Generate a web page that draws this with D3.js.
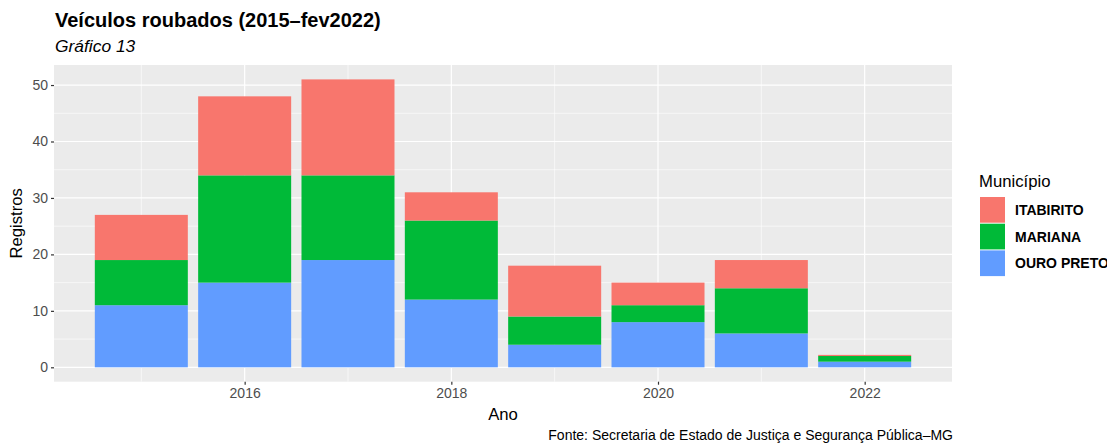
<!DOCTYPE html>
<html><head><meta charset="utf-8">
<script src="https://cdn.jsdelivr.net/npm/d3@7"></script>
<style>body{margin:0;background:#fff;font-family:"Liberation Sans",Arial,sans-serif}svg{display:block}</style>
</head><body>
<svg id="c" width="1107" height="445"></svg>
<script>
const years = [2015, 2016, 2017, 2018, 2019, 2020, 2021, 2022];
const ouroPreto = [11, 15, 19, 12, 4, 8, 6, 1];
const mariana = [8, 19, 15, 14, 5, 3, 8, 1];
const itabirito = [8, 14, 17, 5, 9, 4, 5, 0.2];
const seriesNames = ["OURO PRETO", "MARIANA", "ITABIRITO"];
const legendOrder = ["ITABIRITO", "MARIANA", "OURO PRETO"];
const colors = {"ITABIRITO": "#F8766D", "MARIANA": "#00BA38", "OURO PRETO": "#619CFF"};
const xTicks = [2016, 2018, 2020, 2022];
const xMinor = [2015, 2017, 2019, 2021];
const yTicks = [0, 10, 20, 30, 40, 50];
const yMinor = [5, 15, 25, 35, 45];

const rows = years.map((y, i) => ({year: y, "OURO PRETO": ouroPreto[i], "MARIANA": mariana[i], "ITABIRITO": itabirito[i]}));
const stack = d3.stack().keys(seriesNames)(rows);

const svg = d3.select("#c");
const L = 54, R = 952, T = 65, B = 381.7;
const x = d3.scaleLinear().domain([2014.155, 2022.845]).range([L, R]);
const y = d3.scaleLinear().domain([-2.55, 53.55]).range([B, T]);

svg.append("rect").attr("x", L).attr("y", T).attr("width", R - L).attr("height", B - T).attr("fill", "#EBEBEB");
const g = svg.append("g");
xMinor.forEach(v => g.append("line").attr("x1", x(v)).attr("x2", x(v)).attr("y1", T).attr("y2", B).attr("stroke", "#fff").attr("stroke-width", 0.6));
yMinor.forEach(v => g.append("line").attr("y1", y(v)).attr("y2", y(v)).attr("x1", L).attr("x2", R).attr("stroke", "#fff").attr("stroke-width", 0.6));
xTicks.forEach(v => g.append("line").attr("x1", x(v)).attr("x2", x(v)).attr("y1", T).attr("y2", B).attr("stroke", "#fff").attr("stroke-width", 1.2));
yTicks.forEach(v => g.append("line").attr("y1", y(v)).attr("y2", y(v)).attr("x1", L).attr("x2", R).attr("stroke", "#fff").attr("stroke-width", 1.2));

stack.forEach(s => {
  svg.append("g").selectAll("rect").data(s).join("rect")
    .attr("x", d => x(d.data.year - 0.45))
    .attr("width", d => x(d.data.year + 0.45) - x(d.data.year - 0.45))
    .attr("y", d => y(d[1]))
    .attr("height", d => y(d[0]) - y(d[1]))
    .attr("fill", colors[s.key]);
});

// axes
const xa = svg.append("g").attr("transform", `translate(0,${B})`)
  .call(d3.axisBottom(x).tickValues(xTicks).tickFormat(d3.format("d")).tickSize(3).tickPadding(3));
const ya = svg.append("g").attr("transform", `translate(${L},0)`)
  .call(d3.axisLeft(y).tickValues(yTicks).tickSize(3).tickPadding(3));
[xa, ya].forEach(a => {
  a.select(".domain").remove();
  a.selectAll("line").attr("stroke", "#333").attr("stroke-width", 1.2);
  a.selectAll("text").attr("fill", "#4D4D4D").style("font-size", "14px").style("font-family", "Liberation Sans, Arial, sans-serif");
});

svg.append("text").attr("x", 55).attr("y", 27).text("Veículos roubados (2015–fev2022)")
  .style("font-size", "20px").style("font-weight", "bold").attr("fill", "#000");
svg.append("text").attr("x", 55).attr("y", 52).text("Gráfico 13")
  .style("font-size", "17.4px").style("font-style", "italic").attr("fill", "#000");
svg.append("text").attr("x", (L + R) / 2).attr("y", 420).attr("text-anchor", "middle").text("Ano").style("font-size", "16.7px");
svg.append("text").attr("transform", `translate(22,${(T + B) / 2}) rotate(-90)`).attr("text-anchor", "middle").text("Registros").style("font-size", "16.7px");
svg.append("text").attr("x", 953).attr("y", 440).attr("text-anchor", "end").text("Fonte: Secretaria de Estado de Justiça e Segurança Pública–MG").style("font-size", "14px");

// legend
const lg = svg.append("g");
lg.append("text").attr("x", 979).attr("y", 187).text("Município").style("font-size", "16.7px");
legendOrder.forEach((k, i) => {
  lg.append("rect").attr("x", 980).attr("y", 197 + i * 26.7).attr("width", 25).attr("height", 25.7).attr("fill", colors[k]);
  lg.append("text").attr("x", 1015).attr("y", 215 + i * 26.7).text(k).style("font-size", "14px").style("font-weight", "bold");
});
</script>
</body></html>
